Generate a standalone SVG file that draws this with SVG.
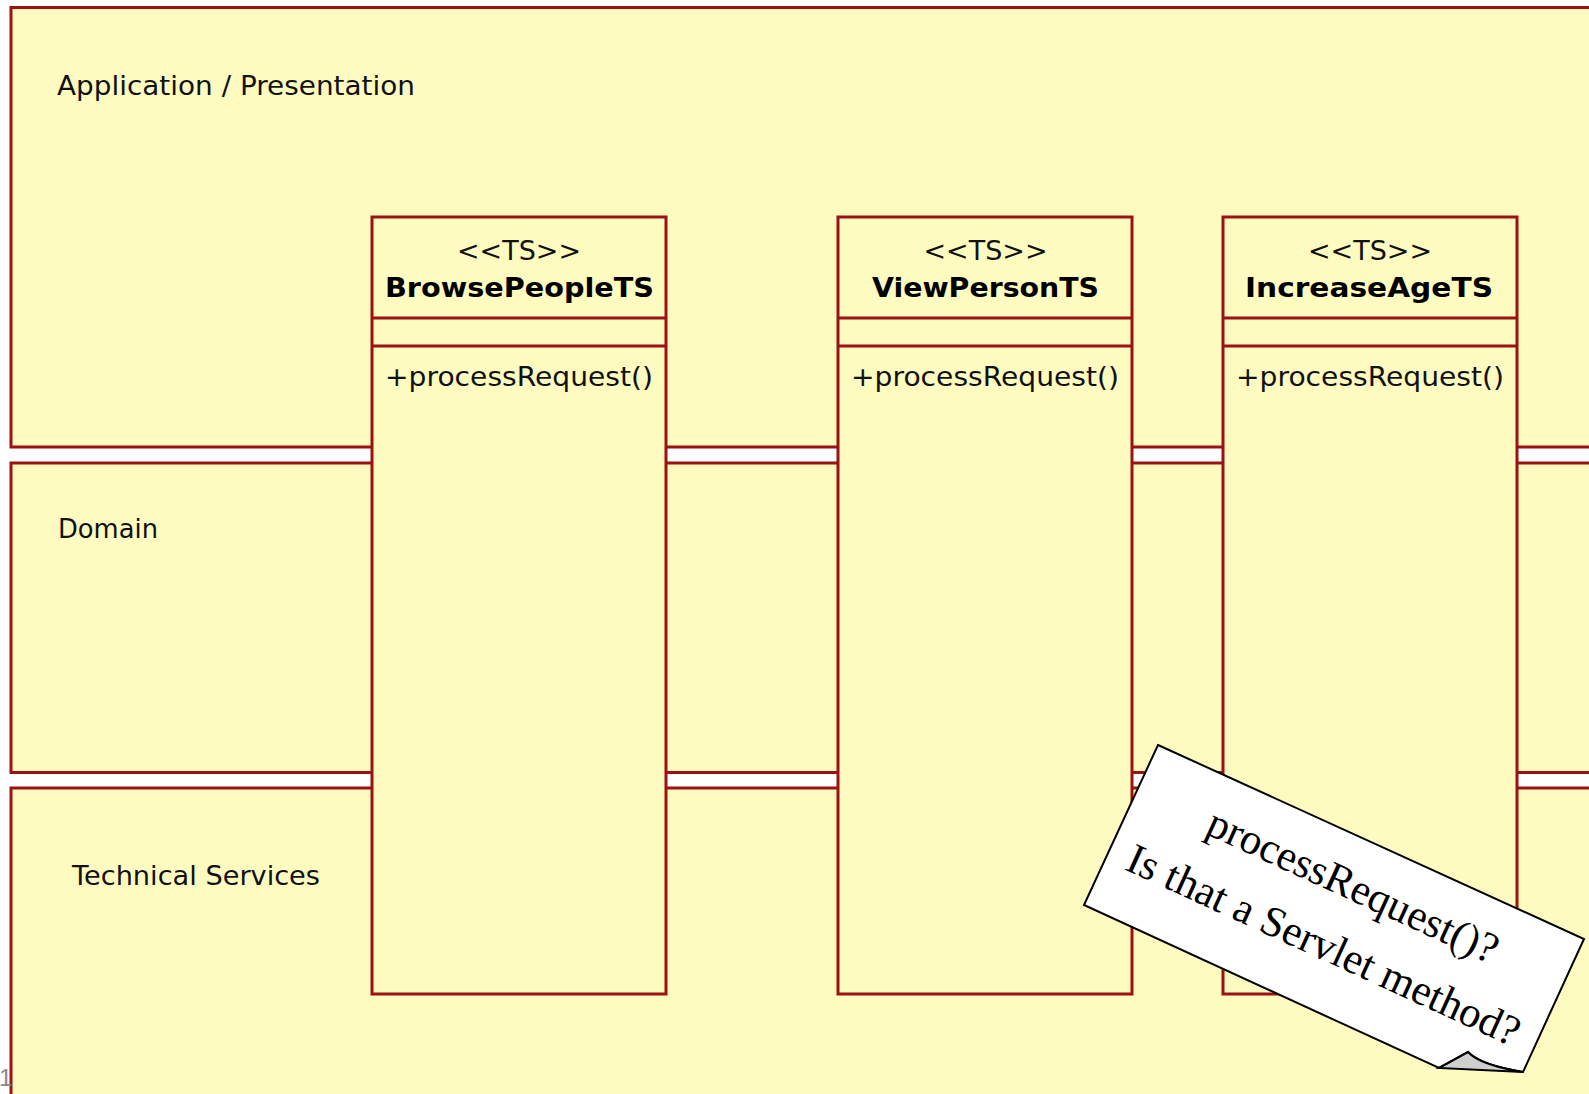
<svg xmlns="http://www.w3.org/2000/svg" width="1589" height="1094" viewBox="0 0 1589 1094">
  <style>
    .layer { fill: #FEFBC0; stroke: #9C1111; stroke-width: 3; }
    .cls { fill: #FEFBC0; stroke: #9C1111; stroke-width: 3; }
    .div { stroke: #9C1111; stroke-width: 3; }
    .lbl { font-family: "DejaVu Sans", "Liberation Sans", sans-serif; font-size: 27px; fill: #111; }
    .stereo { font-family: "DejaVu Sans", "Liberation Sans", sans-serif; font-size: 27px; fill: #111; text-anchor: middle; }
    .name { font-family: "DejaVu Sans", "Liberation Sans", sans-serif; font-size: 27px; font-weight: bold; fill: #000; text-anchor: middle; }
    .op { font-family: "DejaVu Sans", "Liberation Sans", sans-serif; font-size: 27px; fill: #111; }
    .note { fill: #FFFFFF; stroke: #000; stroke-width: 2; stroke-linejoin: miter; }
    .fold { fill: #CFCFCF; stroke: #000; stroke-width: 2; }
    .notetxt { font-family: "Liberation Serif", "Times New Roman", serif; font-size: 43px; fill: #000; text-anchor: middle; }
  </style>

  <rect width="1589" height="1094" fill="#FFFFFF"/>

  <!-- package layers -->
  <g id="layer-application">
    <rect class="layer" x="11" y="7.5" width="1600" height="439.5"/>
    <text class="lbl" x="57" y="95" textLength="358" lengthAdjust="spacingAndGlyphs">Application / Presentation</text>
  </g>
  <g id="layer-domain">
    <rect class="layer" x="11" y="463" width="1600" height="309.5"/>
    <text class="lbl" x="58" y="538" textLength="100" lengthAdjust="spacingAndGlyphs">Domain</text>
  </g>
  <g id="layer-technical-services">
    <rect class="layer" x="11" y="788" width="1600" height="330"/>
    <text class="lbl" x="72" y="885" textLength="248" lengthAdjust="spacingAndGlyphs">Technical Services</text>
  </g>

  <!-- transaction script classes -->
  <g id="BrowsePeopleTS">
    <rect class="cls" x="372" y="217" width="294" height="777"/>
    <line class="div" x1="372" y1="318" x2="666" y2="318"/>
    <line class="div" x1="372" y1="346" x2="666" y2="346"/>
    <text class="stereo" x="519" y="260" textLength="124" lengthAdjust="spacingAndGlyphs">&lt;&lt;TS&gt;&gt;</text>
    <text class="name" x="519.5" y="297" textLength="269" lengthAdjust="spacingAndGlyphs">BrowsePeopleTS</text>
    <text class="op" x="385" y="386" textLength="268" lengthAdjust="spacingAndGlyphs">+processRequest()</text>
  </g>
  <g id="ViewPersonTS">
    <rect class="cls" x="838" y="217" width="294" height="777"/>
    <line class="div" x1="838" y1="318" x2="1132" y2="318"/>
    <line class="div" x1="838" y1="346" x2="1132" y2="346"/>
    <text class="stereo" x="985.5" y="260" textLength="124" lengthAdjust="spacingAndGlyphs">&lt;&lt;TS&gt;&gt;</text>
    <text class="name" x="985.5" y="297" textLength="227" lengthAdjust="spacingAndGlyphs">ViewPersonTS</text>
    <text class="op" x="851" y="386" textLength="268" lengthAdjust="spacingAndGlyphs">+processRequest()</text>
  </g>
  <g id="IncreaseAgeTS">
    <rect class="cls" x="1223" y="217" width="294" height="777"/>
    <line class="div" x1="1223" y1="318" x2="1517" y2="318"/>
    <line class="div" x1="1223" y1="346" x2="1517" y2="346"/>
    <text class="stereo" x="1370" y="260" textLength="124" lengthAdjust="spacingAndGlyphs">&lt;&lt;TS&gt;&gt;</text>
    <text class="name" x="1369" y="297" textLength="248" lengthAdjust="spacingAndGlyphs">IncreaseAgeTS</text>
    <text class="op" x="1236" y="386" textLength="268" lengthAdjust="spacingAndGlyphs">+processRequest()</text>
  </g>

  <g id="connectors"/>

  <!-- tilted sticky note with curled corner -->
  <g id="note">
    <path class="note" d="M1158,745 L1584,939 L1523,1072 Q1480,1065 1468,1052 L1439,1068 L1084,905 Z"/>
    <path class="fold" d="M1439,1068 L1468,1052 Q1480,1065 1523,1072 Z"/>
    <g transform="translate(1158,745) rotate(24.6)">
      <text class="notetxt" x="236" y="61">processRequest()?</text>
      <text class="notetxt" x="234" y="127">Is that a Servlet method?</text>
    </g>
  </g>

  <!-- page number fragment -->
  <text x="-1" y="1086" font-family="Liberation Sans, sans-serif" font-size="24" fill="#8A8A8A">1</text>
</svg>
